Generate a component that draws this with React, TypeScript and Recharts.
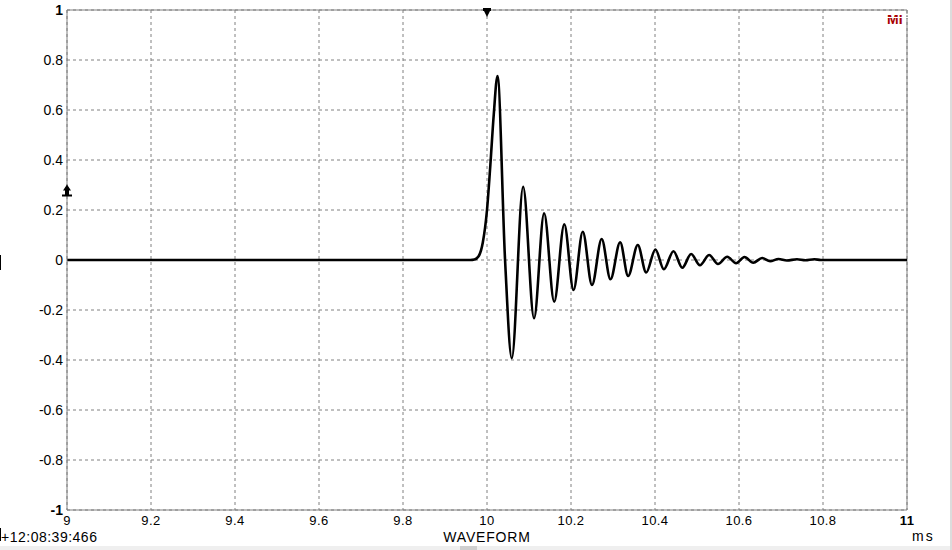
import React from 'react'
import {
  LineChart,
  Line,
  XAxis,
  YAxis,
  CartesianGrid,
  ReferenceLine,
  ReferenceDot
} from 'recharts'

// time in ms (extrema + a few points on the first rise)
const times = [
  9, 9.96, 9.97, 9.98, 9.99, 10.0, 10.008, 10.016, 10.025, 10.043, 10.059,
  10.086, 10.112, 10.136, 10.16, 10.184, 10.206, 10.228, 10.25, 10.273, 10.294,
  10.317, 10.336, 10.359, 10.379, 10.401, 10.421, 10.444, 10.465, 10.486, 10.507,
  10.529, 10.55, 10.572, 10.593, 10.613, 10.634, 10.655, 10.674, 10.694, 10.714,
  10.738, 10.758, 10.779, 10.795, 11
]
const amplitude = [
  0, 0, 0.002, 0.015, 0.07, 0.2, 0.38, 0.58, 0.736, 0, -0.393,
  0.293, -0.233, 0.187, -0.167, 0.143, -0.12, 0.113, -0.1, 0.084, -0.077,
  0.071, -0.064, 0.06, -0.05, 0.042, -0.037, 0.035, -0.031, 0.024, -0.021,
  0.02, -0.016, 0.013, -0.013, 0.012, -0.011, 0.008, -0.005, 0.004, -0.002,
  0.003, -0.001, 0.003, 0, 0
]

const xTicks = [9, 9.2, 9.4, 9.6, 9.8, 10, 10.2, 10.4, 10.6, 10.8, 11]
const yTicks = [-1, -0.8, -0.6, -0.4, -0.2, 0, 0.2, 0.4, 0.6, 0.8, 1]

const data = times.map((t, i) => ({ t, v: amplitude[i] }))

const FONT = "'Liberation Sans', Arial, sans-serif"

const fmt = (v: number) => String(Math.round(v * 10) / 10)

function XTick(props: any) {
  const { x, y, payload } = props
  const bold = payload.value === 11
  return (
    <text x={x} y={y} dy="0.72em" textAnchor="middle" fill="#000" fontSize={13}
      fontFamily={FONT} fontWeight={bold ? 'bold' : 'normal'} letterSpacing={0.4}>
      {fmt(payload.value)}
    </text>
  )
}

function YTick(props: any) {
  const { x, y, payload } = props
  const bold = Math.abs(payload.value) === 1
  return (
    <text x={x} y={y} dy="0.355em" textAnchor="end" fill="#000" fontSize={14}
      fontFamily={FONT} fontWeight={bold ? 'bold' : 'normal'}>
      {fmt(payload.value)}
    </text>
  )
}

const TopMarker = (p: any) => (
  <path d={`M${p.cx - 4},${p.cy - 2} h8 v3 h-1 l-3,6 l-3,-6 h-1 z`} fill="#000" />
)

const LeftMarker = (p: any) => (
  <path d={`M${p.cx},${p.cy - 8} l4,6 h-2 v4 h3 v2 h-10 v-2 h3 v-4 h-2 z`} fill="#000" />
)

const label: React.CSSProperties = { position: 'absolute', lineHeight: '11px', whiteSpace: 'nowrap' }

export default function App() {
  return (
    <div style={{ position: 'absolute', left: 0, top: 0, width: 952, height: 550, background: '#fff', fontFamily: FONT }}>
      <LineChart width={952} height={550} data={data}
        margin={{ top: 10, right: 45, bottom: 0, left: 7 }}>
        <CartesianGrid stroke="#808080" strokeDasharray="3 3" />
        <XAxis dataKey="t" type="number" domain={[9, 11]} ticks={xTicks}
          height={40} stroke="#808080" tickLine={false} tickSize={4} tickMargin={2} tick={<XTick />} />
        <YAxis type="number" domain={[-1, 1]} ticks={yTicks} width={60}
          stroke="#808080" tickLine={false} tickSize={2} tickMargin={2} tick={<YTick />} />
        <ReferenceLine y={1} stroke="#808080" />
        <ReferenceLine x={11} stroke="#808080" />
        <Line type="monotone" dataKey="v" stroke="#000" strokeWidth={2.6}
          dot={false} isAnimationActive={false} />
        <ReferenceDot x={10} y={1} shape={TopMarker} />
        <ReferenceDot x={9} y={0.27} shape={LeftMarker} />
      </LineChart>
      <svg style={{ position: 'absolute', left: 886, top: 11 }} width={22} height={14}>
        <text x={1} y={12.5} fontFamily={FONT} fontWeight="bold" fontSize={14} fill="#a80000">MI</text>
        <rect x={0} y={3} width={22} height={1} fill="#fff" />
        <rect x={0} y={6} width={22} height={1} fill="#fff" />
      </svg>
      <div style={{ ...label, left: 912, top: 531, fontSize: 14, letterSpacing: 2 }}>ms</div>
      <div style={{ ...label, left: 0, width: 974, top: 532, textAlign: 'center', fontSize: 14, letterSpacing: 0.8 }}>WAVEFORM</div>
      <div style={{ ...label, left: 1, top: 532, fontSize: 14, letterSpacing: 0.5 }}>+12:08:39:466</div>
      <div style={{ position: 'absolute', left: 0, top: 528, width: 1, height: 13, background: '#000' }} />
      <div style={{ position: 'absolute', left: 0, top: 255, width: 1, height: 15, background: '#000' }} />
      <div style={{ position: 'absolute', left: 0, top: 546, width: 952, height: 4, background: '#efefef' }} />
      <div style={{ position: 'absolute', left: 460, top: 546, width: 17, height: 4, background: '#cfcfcf' }} />
      <div style={{ position: 'absolute', left: 950, top: 0, width: 2, height: 550, background: '#dcdcdc' }} />
    </div>
  )
}
